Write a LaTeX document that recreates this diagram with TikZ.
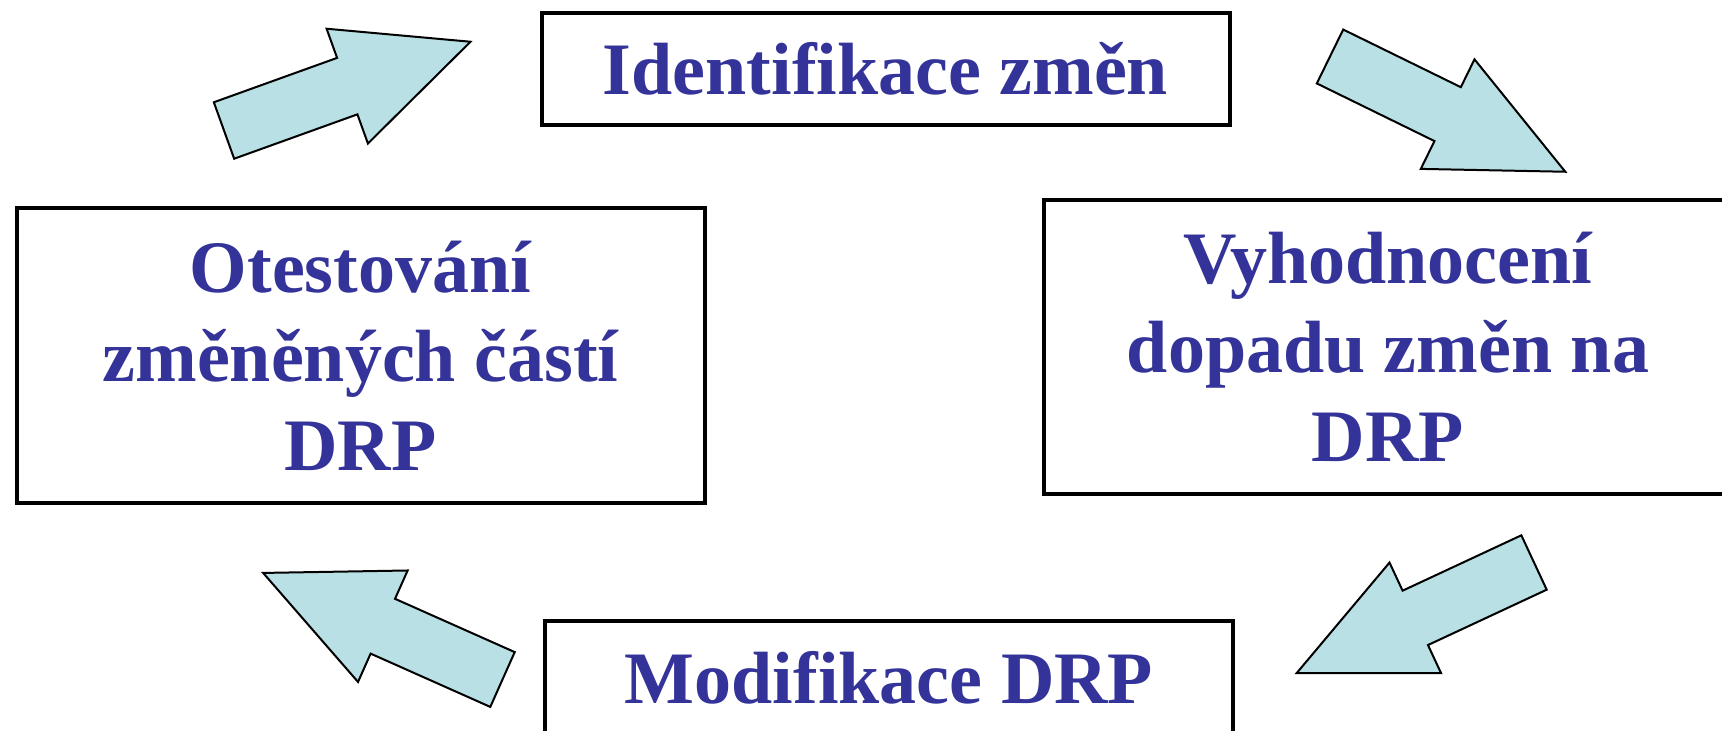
\documentclass[tikz,border=0pt]{standalone}
\usepackage{fontspec}
\setmainfont{Liberation Serif}
\definecolor{drpblue}{RGB}{51,51,153}
\definecolor{arrowfill}{RGB}{185,224,228}
\tikzset{
	stagebox/.style={draw,line width=2pt,fill=white,minimum width=344pt,inner sep=0pt,align=center,text=drpblue,font=\fontsize{37}{44.5}\selectfont\bfseries},
	blockarrow/.style={draw,line width=1pt,fill=arrowfill,line join=miter}
}
\begin{document}
\begin{tikzpicture}[x=0.5pt,y=-0.5pt]
			\useasboundingbox (0,0) rectangle (1722,731);
			\clip (0,0) rectangle (1722,731);
			\def\arr#1#2#3{
				\begin{scope}[shift={(#1,#2)},rotate=#3]
				\draw[blockarrow] (0,-30)--(131,-30)--(131,-61)--(262,0)--(131,61)--(131,30)--(0,30)--cycle;
				\end{scope}
			}
			\node[stagebox,minimum height=56pt] (ident) at (885.5,69) {Identifikace změn};
			\node[stagebox,minimum height=147.5pt] (retest) at (360.5,355.5) {Otestování\\změněných částí\\DRP};
			\node[stagebox,minimum height=147pt] (impact) at (1388,347) {Vyhodnocení\\dopadu změn na\\DRP};
			\node[stagebox,minimum height=57pt] (modif) at (889,678) {Modifikace DRP};
			% tail centre x / y / direction
			\foreach \x/\y/\a in {224/130.5/19.8,1330/56.5/-26.1,1534/562.5/205,502.5/679.5/156}{
				\arr{\x}{\y}{\a}
			}
		\end{tikzpicture}
\end{document}
